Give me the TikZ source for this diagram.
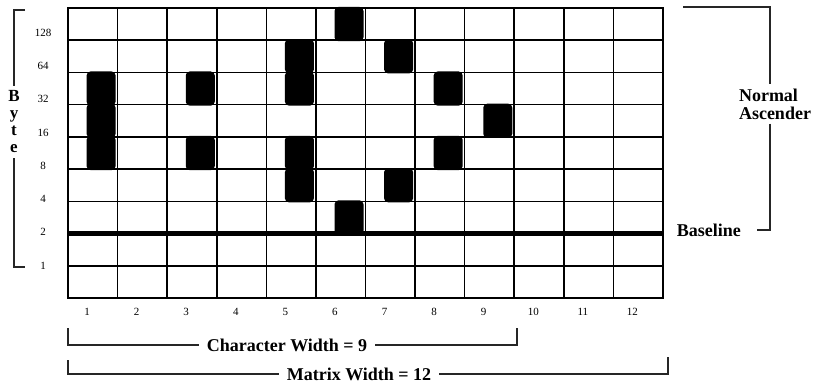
\documentclass[tikz,border=0pt]{standalone}
\usepackage{fontspec}
\setmainfont{Liberation Serif}
\usetikzlibrary{positioning, calc}

\begin{document}
\begin{tikzpicture}[
    x=1pt, y=-1pt,
    cellLine/.style={draw=black, line width=1.6pt},
    frameLine/.style={draw=black, line width=2.6pt},
    baseRule/.style={draw=black, line width=4.5pt},
    dotCell/.style={fill=black, rounded corners=4pt},
    rowNum/.style={font=\fontsize{11}{11}\selectfont, inner sep=0pt},
    colNum/.style={font=\fontsize{11}{11}\selectfont, inner sep=0pt},
    bracketLine/.style={draw=black!85, line width=1.4pt},
    bracketLbl/.style={font=\fontsize{18}{18}\selectfont\bfseries, inner sep=0pt},
]
\useasboundingbox (0,0) rectangle (814,385);
% matrix: 12 columns x 9 rows, cell 49.583 x 32.222
\foreach \c in {1,...,11}
    \draw[cellLine] ({68+\c*49.583},8) -- ({68+\c*49.583},298);
\foreach \r in {1,...,8}
    \draw[cellLine] (68,{8+\r*32.222}) -- (663,{8+\r*32.222});
\draw[baseRule] (68,{8+7*32.222}) -- (663,{8+7*32.222});
\draw[frameLine] (68,8) rectangle (663,298);
% printed dots (column/row from top)
\foreach \c/\r in {1/3,1/4,1/5,3/3,3/5,5/2,5/3,5/5,5/6,6/1,6/7,7/2,7/6,8/3,8/5,9/4}
    \fill[dotCell] ({68+\c*49.583-31},{8+(\r-1)*32.222-1}) rectangle ({68+\c*49.583-2},{8+\r*32.222+1});
% byte values and column numbers
\foreach \v [count=\k from 0] in {128,64,32,16,8,4,2,1}
    \node[rowNum] (row\v) at (43,{33+\k*33.2}) {\v};
\foreach \c in {1,...,12}
    \node[colNum] (col\c) at ({68+(\c-1)*49.583+19},312) {\c};
% Byte bracket
\node[bracketLbl, align=center, inner ysep=5pt, font=\fontsize{17}{17}\selectfont\bfseries] (byte) at (14,122) {B\\y\\t\\e};
\coordinate (byteTop) at (25,10);
\coordinate (byteBot) at (25,267);
\draw[bracketLine] (byteTop) -| (byte.north);
\draw[bracketLine] (byte.south) |- (byteBot);
% ascender bracket
\node[bracketLbl, align=left, inner ysep=4pt] (asc) at (775,104) {Normal\\Ascender};
\node[bracketLbl, anchor=east] (baseLbl) at (741,230) {Baseline};
\coordinate (ascTop) at (683,7);
\coordinate (ascBot) at (757,230);
\draw[bracketLine] (ascTop) -| ([xshift=-5pt]asc.north);
\draw[bracketLine] ([xshift=-5pt]asc.south) |- (ascBot);
% width brackets
\node[bracketLbl, inner xsep=8pt] (charW) at (287,345) {Character Width = 9};
\coordinate (charL) at (68,328);
\coordinate (charR) at (517,328);
\draw[bracketLine] (charL) |- (charW.west);
\draw[bracketLine] (charW.east) -| (charR);
\node[bracketLbl, inner xsep=8pt] (matW) at (359,374) {Matrix Width = 12};
\coordinate (matL) at (68,360);
\coordinate (matR) at (668,357);
\draw[bracketLine] (matL) |- (matW.west);
\draw[bracketLine] (matW.east) -| (matR);
\end{tikzpicture}
\end{document}
